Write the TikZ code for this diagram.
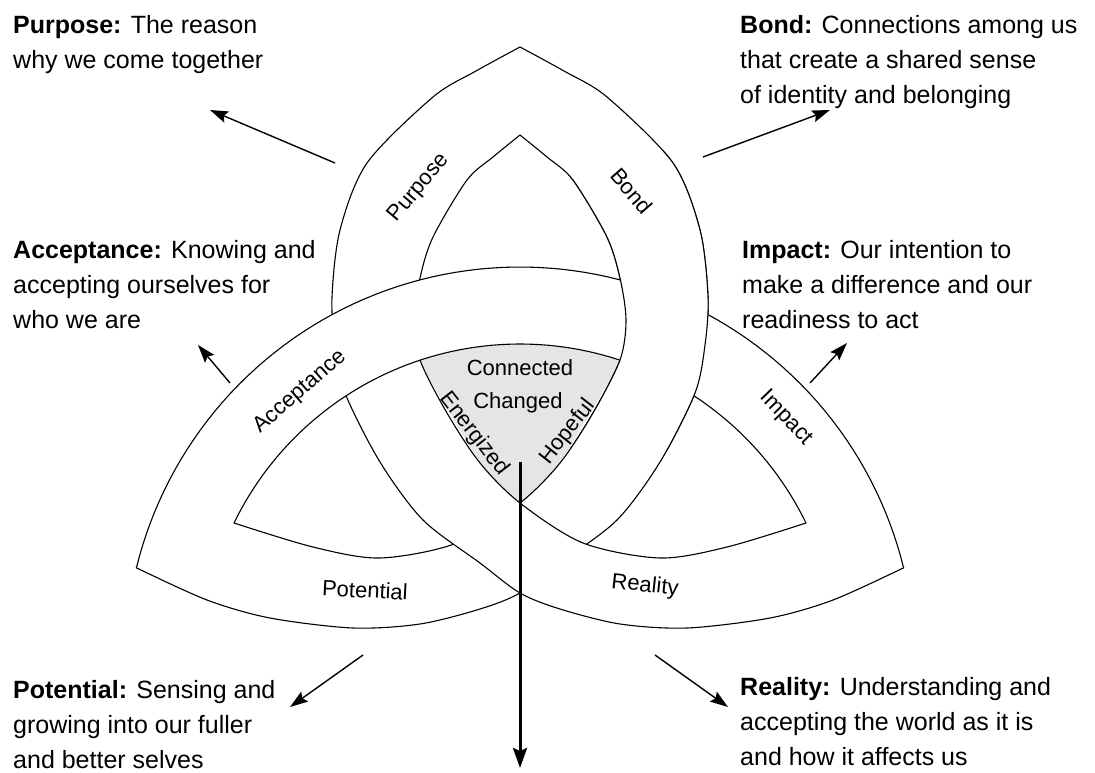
\documentclass[tikz,border=0pt]{standalone}
\usepackage{fontspec}
\setmainfont{Liberation Sans}
\usetikzlibrary{arrows.meta}

\newcommand{\loopband}{%
  \fill[white] plot[smooth] coordinates {(520,47) (476,71) (433,97) (367,163) (340,230) (332,297) (335,345) (345,393) (380,462) (423,520) (480,563) (520,593) (560,609) (620,624) (687,628) (770,618) (833,600) (903.6,567.8)}
    -- plot[smooth] coordinates {(806,523) (727,547) (660,558) (583,543) (520,503) (480,463) (447,413) (420,360) (414,320) (420,278) (433,237) (467,180) (493,157) (520,135)} -- cycle;
  \draw[band] plot[smooth] coordinates {(520,47) (476,71) (433,97) (367,163) (340,230) (332,297) (335,345) (345,393) (380,462) (423,520) (480,563) (520,593) (560,609) (620,624) (687,628) (770,618) (833,600) (903.6,567.8)};
  \draw[band] plot[smooth] coordinates {(520,135) (493,157) (467,180) (433,237) (420,278) (414,320) (420,360) (447,413) (480,463) (520,503) (583,543) (660,558) (727,547) (806,523)};
}

\begin{document}
\begin{tikzpicture}[x=1pt,y=-1pt,
  band/.style={line width=1.1pt,line cap=round},
  pointer/.style={line width=1.4pt,-{Stealth[length=18pt,width=12pt,inset=3pt]}},
  tag/.style={font=\fontsize{22}{22}\selectfont,inner sep=0pt},
  note/.style={font=\fontsize{25}{35}\selectfont,align=left,anchor=north west,inner sep=0pt}]
\useasboundingbox (0,0) rectangle (1095,772);

\fill[black!10] (400,330) -- (640,330) -- (520,530) -- cycle;
\begin{scope}[xshift=1040pt,xscale=-1]
\loopband
\end{scope}
\loopband
\fill[white] plot[domain=166.2:13.8,variable=\t,samples=90] ({520+395*cos(\t)},{662-395*sin(\t)})
  -- plot[domain=25.9:154.1,variable=\t,samples=90] ({520+318*cos(\t)},{662-318*sin(\t)}) -- cycle;
\draw[band] plot[domain=166.2:13.8,variable=\t,samples=90] ({520+395*cos(\t)},{662-395*sin(\t)});
\draw[band] plot[domain=154.1:25.9,variable=\t,samples=90] ({520+318*cos(\t)},{662-318*sin(\t)});
\begin{scope}
\clip (570,150) rectangle (780,450);
\begin{scope}[xshift=1040pt,xscale=-1]
\loopband
\end{scope}
\end{scope}

\node[tag,rotate=50] (purpose-tag) at (419,188) {Purpose};
\node[tag,rotate=-49] (bond-tag) at (632,191) {Bond};
\node[tag,rotate=41] (acceptance-tag) at (300,392) {Acceptance};
\node[tag,rotate=-46] (impact-tag) at (786,418) {Impact};
\node[tag,rotate=-3] (potential-tag) at (365,590) {Potential};
\node[tag,rotate=-6] (reality-tag) at (645,586) {Reality};
\node[tag] (connected-tag) at (520,368) {Connected};
\node[tag] (changed-tag) at (518,403) {Changed};
\node[tag,rotate=-52] (energized-tag) at (474,434) {Energized};
\node[tag,rotate=52] (hopeful-tag) at (568,432) {Hopeful};

\node[note] (purpose-note) at (13,15) {\textbf{Purpose:} The reason\\why we come together};
\node[note] (bond-note) at (740,15) {\textbf{Bond:} Connections among us\\that create a shared sense\\of identity and belonging};
\node[note] (acceptance-note) at (13,240) {\textbf{Acceptance:} Knowing and\\accepting ourselves for\\who we are};
\node[note] (impact-note) at (742,240) {\textbf{Impact:} Our intention to\\make a difference and our\\readiness to act};
\node[note] (potential-note) at (13,680) {\textbf{Potential:} Sensing and\\growing into our fuller\\and better selves};
\node[note] (reality-note) at (740,677) {\textbf{Reality:} Understanding and\\accepting the world as it is\\and how it affects us};

\coordinate (purpose-from) at (335,163);
\coordinate (purpose-to) at (210,110);
\coordinate (bond-from) at (703,157);
\coordinate (bond-to) at (830,110);
\coordinate (acceptance-from) at (230,383);
\coordinate (acceptance-to) at (198,345);
\coordinate (impact-from) at (810,383);
\coordinate (impact-to) at (847,343);
\coordinate (potential-from) at (363,655);
\coordinate (potential-to) at (290,707);
\coordinate (reality-from) at (655,655);
\coordinate (reality-to) at (728,707);
\coordinate (centre-from) at (520,462);
\coordinate (centre-to) at (520,768);
\draw[pointer] (purpose-from) -- (purpose-to);
\draw[pointer] (bond-from) -- (bond-to);
\draw[pointer] (acceptance-from) -- (acceptance-to);
\draw[pointer] (impact-from) -- (impact-to);
\draw[pointer] (potential-from) -- (potential-to);
\draw[pointer] (reality-from) -- (reality-to);
\draw[line width=3pt,-{Stealth[length=20pt,width=14pt,inset=3pt]}] (centre-from) -- (centre-to);
\end{tikzpicture}
\end{document}
